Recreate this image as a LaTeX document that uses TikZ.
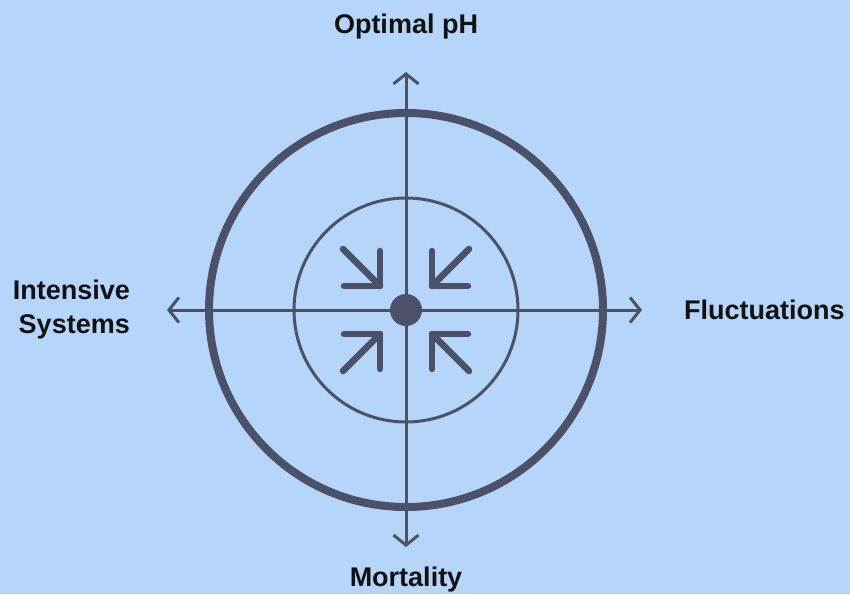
\documentclass[tikz,border=0pt]{standalone}
\usepackage{fontspec}
\setmainfont{Liberation Sans}
\usetikzlibrary{arrows.meta}
\definecolor{bgblue}{HTML}{B5D5FA}
\definecolor{ink}{HTML}{4C5168}
\definecolor{txt}{HTML}{111111}
\begin{document}
\begin{tikzpicture}[x=1pt,y=-1pt,
  axis/.style={draw=ink,line width=3pt,-{Straight Barb[length=10pt,width=25pt,line width=3pt]}},
  small/.style={draw=ink,line width=6.5pt,line cap=round,line join=round},
  lbl/.style={font=\fontsize{27}{34}\selectfont\bfseries,text=txt,inner sep=0pt}]
\fill[bgblue] (0,0) rectangle (850,594);
\useasboundingbox (0,0) rectangle (850,594);
\coordinate (c) at (406,310);
\coordinate (top) at (406,72);
\coordinate (bot) at (406,547);
\coordinate (lft) at (167,310);
\coordinate (rgt) at (642,310);
\draw[ink,line width=8pt] (c) circle[radius=197];
\draw[ink,line width=3pt] (c) circle[radius=112];
\draw[axis] (c) -- (top);
\draw[axis] (c) -- (bot);
\draw[axis] (c) -- (lft);
\draw[axis] (c) -- (rgt);
\fill[ink] (c) circle[radius=16];
% inward arrows
\draw[small] (343,249) -- (380,286);
\draw[small] (380,251) -- (380,286) -- (344,286);
\draw[small] (469,249) -- (432,286);
\draw[small] (432,251) -- (432,286) -- (468,286);
\draw[small] (343,371) -- (380,334);
\draw[small] (380,369) -- (380,334) -- (344,334);
\draw[small] (469,371) -- (432,334);
\draw[small] (432,369) -- (432,334) -- (468,334);
\node[lbl] (ph) at (406,27) {Optimal pH};
\node[lbl] (mo) at (406,580) {Mortality};
\node[lbl,anchor=west] (fl) at (684,310) {Fluctuations};
\node[lbl,anchor=east,align=right] (is) at (130,310) {Intensive\\Systems};
\end{tikzpicture}
\end{document}
